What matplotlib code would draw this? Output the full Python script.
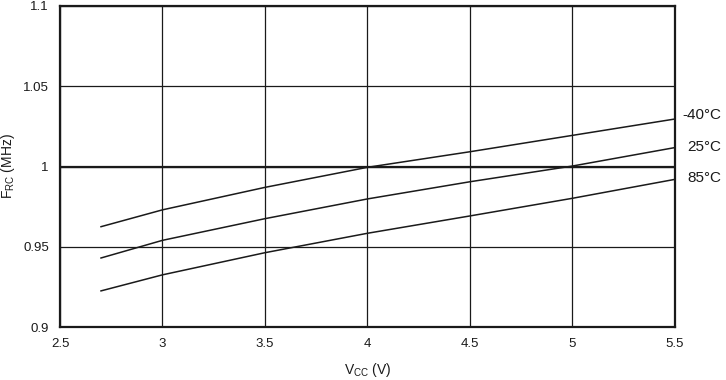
import matplotlib
matplotlib.use("Agg")
import matplotlib.pyplot as plt

plt.rcParams['font.family'] = ['Liberation Sans', 'DejaVu Sans']
plt.rcParams['mathtext.fontset'] = 'custom'
plt.rcParams['mathtext.rm'] = 'Liberation Sans'

# supply voltage (V)
vcc = [2.7, 3.0, 3.5, 4.0, 4.5, 5.0, 5.5]

# RC oscillator frequency (MHz) per temperature
f_m40 = [0.9625, 0.973, 0.987, 0.9995, 1.0092, 1.0194, 1.0296]
f_25 = [0.943, 0.954, 0.9675, 0.9798, 0.9905, 1.0003, 1.0118]
f_85 = [0.9225, 0.9325, 0.9463, 0.9584, 0.9692, 0.9802, 0.992]

series = [("-40°C", f_m40, 1.0321), ("25°C", f_25, 1.0121), ("85°C", f_85, 0.9926)]

xticks = [2.5, 3, 3.5, 4, 4.5, 5, 5.5]
yticks = [0.9, 0.95, 1.0, 1.05, 1.1]
ytick_labels = ["0.9", "0.95", "1", "1.05", "1.1"]

fig = plt.figure(figsize=(7.26, 3.80), dpi=100)
ax = fig.add_axes([60 / 726, 53 / 380, 615 / 726, 321 / 380])

for name, vals, label_y in series:
    ax.plot(vcc, vals, color="#1a1a1a", lw=1.1)
    ax.text(5.726, label_y, name, ha="right", va="center", fontsize=11,
            color="#1a1a1a", clip_on=False)

ax.axhline(1.0, color="#1a1a1a", lw=1.6)

ax.set_xlim(2.5, 5.5)
ax.set_ylim(0.9, 1.1)
ax.set_xticks(xticks)
ax.set_xticklabels([f"{t:g}" for t in xticks])
ax.set_yticks(yticks)
ax.set_yticklabels(ytick_labels)
ax.tick_params(length=0, labelsize=9.5, pad=8, colors="#1a1a1a")
ax.grid(True, color="#1a1a1a", lw=0.9)
for s in ax.spines.values():
    s.set_linewidth(1.6)
    s.set_color("#1a1a1a")

ax.set_xlabel(r"V$_{\mathregular{CC}}$ (V)", fontsize=10, labelpad=8, color="#1a1a1a")
ax.set_ylabel(r"F$_{\mathregular{RC}}$ (MHz)", fontsize=10, color="#1a1a1a")
ax.yaxis.set_label_coords(-0.07, 0.5)

fig.savefig("out.png", dpi=100)
